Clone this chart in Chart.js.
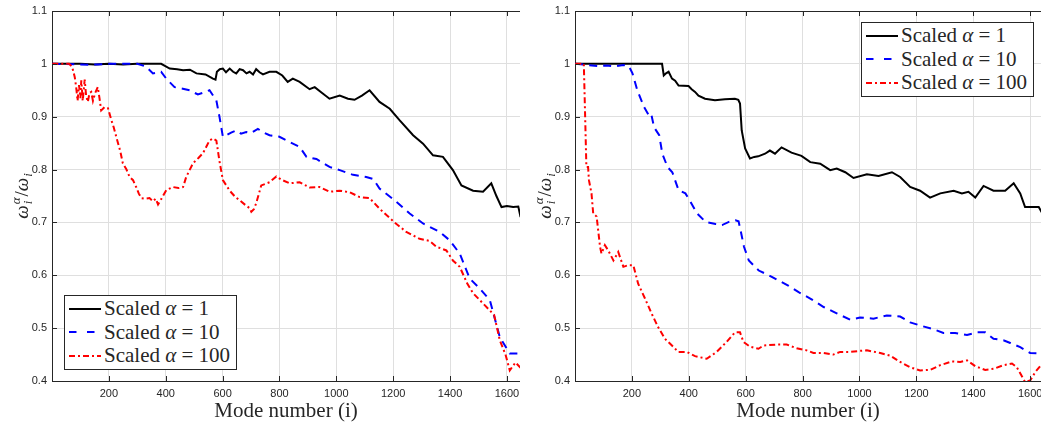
<!DOCTYPE html>
<html>
<head>
<meta charset="utf-8">
<script src="https://cdn.jsdelivr.net/npm/chart.js@4.4.0/dist/chart.umd.min.js"></script>
<style>
body { margin: 0; background: #fff; }
#wrap { position: relative; width: 1041px; height: 425px; overflow: hidden; }
canvas { position: absolute; top: 0; }
#cl { left: 0; }
#cr { left: 520px; }
.legend { position: absolute; z-index: 2; background: #fff; border: 1px solid #262626; box-sizing: border-box;
  width: 173px; height: 75px; font-family: 'Liberation Serif', 'DejaVu Serif', 'Times New Roman', serif; font-size: 21px; color: #262626; }
.legend .row { position: absolute; left: 0; width: 100%; height: 23px; line-height: 23px; white-space: nowrap; }
.legend svg { position: absolute; left: 3px; top: 9.5px; }
.legend span { position: absolute; left: 39px; top: 0; }
#probe { position: absolute; left: 300px; top: 20px; font-size: 21px; z-index: 3; color: #888; }
</style>
</head>
<body>
<div id="wrap">
  <canvas id="cl" width="520" height="425"></canvas>
  <canvas id="cr" width="521" height="425"></canvas>
  <div class="legend" id="legL" style="left:64px; top:295px;"></div>
  <div class="legend" id="legR" style="left:861px; top:22px;"></div>
</div>
<script>
// tick labels / titles
const xTicks = [200, 400, 600, 800, 1000, 1200, 1400, 1600];
const xTitle = 'Mode number (i)';
const alphaLabels = ['1', '10', '100'];

// left panel
const modesL1 = [1, 100, 150, 200, 250, 300, 384, 414, 440, 461, 485, 508, 540, 566, 575, 580, 590, 601, 612, 625, 637, 648, 660, 672, 684, 695, 707, 718, 730, 742, 765, 789, 810, 829, 847, 871, 906, 924, 950, 976, 1012, 1041, 1064, 1090, 1117, 1152, 1188, 1223, 1270, 1305, 1340, 1375, 1410, 1440, 1481, 1516, 1545, 1563, 1581, 1600, 1622, 1640, 1648];
const ratioL1 = [1, 1, 0.999, 1, 0.999, 1, 1, 0.991, 0.99, 0.988, 0.989, 0.982, 0.98, 0.972, 0.97, 0.985, 0.99, 0.991, 0.984, 0.991, 0.985, 0.982, 0.99, 0.988, 0.982, 0.985, 0.98, 0.99, 0.984, 0.98, 0.985, 0.985, 0.978, 0.966, 0.972, 0.966, 0.952, 0.956, 0.945, 0.934, 0.94, 0.934, 0.932, 0.94, 0.95, 0.928, 0.915, 0.893, 0.865, 0.849, 0.827, 0.824, 0.799, 0.77, 0.76, 0.758, 0.774, 0.75, 0.729, 0.731, 0.729, 0.73, 0.71];

const modesL10 = [1, 100, 130, 160, 200, 300, 330, 355, 384, 402, 431, 460, 484, 513, 535, 554, 578, 589, 601, 613, 630, 648, 665, 683, 700, 724, 745, 765, 800, 836, 871, 895, 930, 976, 1012, 1059, 1105, 1130, 1152, 1205, 1258, 1305, 1364, 1399, 1434, 1469, 1504, 1540, 1575, 1610, 1648];
const ratioL10 = [1, 0.999, 0.998, 0.999, 1, 1, 0.995, 0.982, 0.985, 0.972, 0.956, 0.953, 0.95, 0.942, 0.946, 0.95, 0.931, 0.9, 0.862, 0.865, 0.87, 0.874, 0.868, 0.871, 0.869, 0.877, 0.87, 0.865, 0.862, 0.852, 0.843, 0.824, 0.82, 0.805, 0.799, 0.79, 0.786, 0.782, 0.764, 0.742, 0.717, 0.698, 0.682, 0.666, 0.641, 0.594, 0.575, 0.553, 0.483, 0.452, 0.452];

const modesL100 = [1, 60, 70, 74, 80, 85, 90, 95, 100, 103, 108, 115, 120, 126, 132, 138, 144, 152, 161, 167, 173, 185, 197, 208, 217, 226, 240, 249, 262, 273, 285, 296, 305, 314, 330, 343, 355, 365, 373, 385, 402, 425, 445, 461, 472, 496, 515, 531, 554, 566, 578, 589, 601, 625, 645, 660, 680, 695, 701, 710, 718, 736, 765, 789, 810, 836, 871, 906, 941, 976, 1012, 1047, 1082, 1117, 1152, 1205, 1246, 1293, 1328, 1352, 1387, 1410, 1434, 1460, 1481, 1510, 1539, 1555, 1575, 1595, 1610, 1630, 1648];
const ratioL100 = [1, 1, 0.995, 0.988, 0.975, 0.956, 0.93, 0.96, 0.935, 0.969, 0.93, 0.97, 0.94, 0.928, 0.945, 0.947, 0.93, 0.945, 0.956, 0.935, 0.912, 0.918, 0.916, 0.895, 0.88, 0.862, 0.835, 0.812, 0.8, 0.786, 0.78, 0.767, 0.755, 0.746, 0.745, 0.746, 0.74, 0.745, 0.734, 0.745, 0.761, 0.767, 0.765, 0.767, 0.786, 0.812, 0.822, 0.831, 0.855, 0.859, 0.855, 0.816, 0.78, 0.76, 0.748, 0.742, 0.733, 0.727, 0.72, 0.725, 0.736, 0.77, 0.776, 0.787, 0.78, 0.774, 0.776, 0.766, 0.767, 0.758, 0.76, 0.757, 0.748, 0.746, 0.726, 0.7, 0.682, 0.669, 0.665, 0.654, 0.647, 0.628, 0.616, 0.585, 0.566, 0.55, 0.534, 0.525, 0.477, 0.45, 0.42, 0.435, 0.425];

// right panel
const modesR1 = [1, 100, 200, 306, 312, 320, 329, 341, 352, 364, 399, 410, 422, 434, 457, 492, 527, 562, 574, 580, 586, 598, 615, 630, 644, 668, 685, 703, 726, 761, 796, 827, 862, 897, 920, 950, 979, 1026, 1067, 1114, 1143, 1178, 1213, 1248, 1284, 1331, 1360, 1383, 1407, 1436, 1471, 1512, 1542, 1565, 1582, 1612, 1630, 1648];
const ratioR1 = [1, 1, 1, 1, 0.978, 0.982, 0.985, 0.972, 0.968, 0.959, 0.958, 0.952, 0.947, 0.94, 0.934, 0.931, 0.933, 0.934, 0.932, 0.925, 0.874, 0.84, 0.821, 0.824, 0.825, 0.83, 0.836, 0.83, 0.842, 0.832, 0.826, 0.814, 0.811, 0.799, 0.802, 0.795, 0.784, 0.791, 0.788, 0.795, 0.786, 0.767, 0.76, 0.747, 0.755, 0.76, 0.755, 0.758, 0.747, 0.769, 0.76, 0.76, 0.774, 0.755, 0.729, 0.729, 0.729, 0.712];

const modesR10 = [1, 40, 80, 110, 140, 170, 190, 202, 219, 243, 260, 268, 278, 296, 307, 325, 342, 364, 388, 406, 429, 459, 494, 517, 541, 564, 575, 582, 594, 611, 646, 681, 716, 751, 786, 827, 874, 920, 967, 1002, 1049, 1096, 1143, 1178, 1213, 1254, 1295, 1336, 1378, 1413, 1442, 1471, 1506, 1530, 1565, 1600, 1648];
const ratioR10 = [1, 0.998, 0.996, 0.997, 0.995, 0.998, 0.995, 0.982, 0.95, 0.918, 0.902, 0.905, 0.88, 0.865, 0.83, 0.805, 0.795, 0.761, 0.755, 0.739, 0.717, 0.701, 0.697, 0.695, 0.701, 0.704, 0.702, 0.685, 0.654, 0.628, 0.609, 0.6, 0.59, 0.58, 0.568, 0.556, 0.54, 0.528, 0.516, 0.52, 0.518, 0.524, 0.522, 0.511, 0.505, 0.499, 0.491, 0.491, 0.487, 0.492, 0.492, 0.48, 0.477, 0.472, 0.464, 0.453, 0.452];

const modesR100 = [1, 31, 36, 40, 46, 49, 58, 64, 76, 88, 93, 105, 117, 135, 152, 170, 187, 205, 222, 246, 269, 292, 316, 339, 363, 393, 422, 463, 498, 533, 562, 580, 592, 615, 645, 662, 709, 744, 779, 814, 838, 873, 908, 932, 967, 1002, 1026, 1073, 1108, 1143, 1178, 1213, 1248, 1284, 1325, 1354, 1378, 1407, 1442, 1471, 1506, 1536, 1553, 1582, 1600, 1618, 1635, 1648];
const ratioR100 = [1, 1, 0.893, 0.805, 0.805, 0.78, 0.755, 0.717, 0.711, 0.654, 0.641, 0.657, 0.647, 0.628, 0.644, 0.616, 0.619, 0.619, 0.584, 0.556, 0.528, 0.502, 0.48, 0.468, 0.455, 0.455, 0.447, 0.442, 0.455, 0.474, 0.492, 0.492, 0.474, 0.465, 0.461, 0.467, 0.469, 0.469, 0.462, 0.458, 0.453, 0.453, 0.45, 0.455, 0.455, 0.457, 0.458, 0.453, 0.448, 0.436, 0.426, 0.42, 0.421, 0.43, 0.437, 0.436, 0.439, 0.428, 0.421, 0.423, 0.43, 0.433, 0.426, 0.398, 0.401, 0.417, 0.428, 0.428];

const colors = ['#000000', '#0000ff', '#ff0000'];
const dashes = [[], [8, 6], [6, 3, 2, 3]];

const axisColor = '#262626';
const serif = '"Liberation Serif", "DejaVu Serif", "Times New Roman", serif';

function drawYTitle(ctx, cx, cy) {
    const big = 'italic 19px ' + serif;
    const small = 'italic 13px ' + serif;
    const plain = '19px ' + serif;
    ctx.save();
    ctx.translate(cx, cy);
    ctx.rotate(-Math.PI / 2);
    ctx.textAlign = 'left';
    ctx.textBaseline = 'alphabetic';
    ctx.font = big; const wW = ctx.measureText('ω').width;
    ctx.font = small; const wA = ctx.measureText('α').width; const wI = ctx.measureText('i').width;
    ctx.font = plain; const wS = ctx.measureText('/').width;
    const total = wW + 1 + Math.max(wA, wI) + 1 + wS + wW + 1 + wI;
    let x = -total / 2;
    ctx.font = big; ctx.fillText('ω', x, 0); x += wW + 1;
    ctx.font = small; ctx.fillText('α', x, -8); ctx.fillText('i', x, 4); x += Math.max(wA, wI) + 1;
    ctx.font = plain; ctx.fillText('/', x, 0); x += wS;
    ctx.font = big; ctx.fillText('ω', x, 0); x += wW + 1;
    ctx.font = small; ctx.fillText('i', x, 4);
    ctx.restore();
}

const frame = {
    id: 'frame',
    afterDraw(chart) {
        const {ctx, chartArea: a, scales: {x, y}} = chart;
        ctx.save();
        ctx.strokeStyle = axisColor;
        ctx.lineWidth = 1;
        ctx.beginPath();
        ctx.moveTo(a.left, a.top + 0.5);
        ctx.lineTo(a.right, a.top + 0.5);
        x.ticks.forEach(t => {
            const px = Math.round(x.getPixelForValue(t.value)) + 0.5;
            ctx.moveTo(px, a.bottom); ctx.lineTo(px, a.bottom - 5);
            ctx.moveTo(px, a.top); ctx.lineTo(px, a.top + 5);
        });
        y.ticks.forEach(t => {
            const py = Math.round(y.getPixelForValue(t.value)) + 0.5;
            ctx.moveTo(a.left, py); ctx.lineTo(a.left + 5, py);
        });
        ctx.stroke();
        ctx.fillStyle = axisColor;
        ctx.font = '21px ' + serif;
        ctx.textAlign = 'center';
        ctx.textBaseline = 'alphabetic';
        ctx.fillText(xTitle, (a.left + a.right) / 2, 417);
        drawYTitle(ctx, a.left - 24, (a.top + a.bottom) / 2);
        ctx.restore();
    }
};

function makeChart(id, yWidth, xMax, series) {
    const ctx = document.getElementById(id).getContext('2d');
    return new Chart(ctx, {
        type: 'line',
        data: {
            datasets: series.map((s, i) => ({
                label: 'Scaled α = ' + alphaLabels[i],
                data: s[0].map((m, j) => ({x: m, y: s[1][j]})),
                borderColor: colors[i],
                borderWidth: 2,
                borderDash: dashes[i],
                pointRadius: 0,
                tension: 0,
                fill: false,
                order: 3 - i
            }))
        },
        options: {
            responsive: false,
            animation: false,
            layout: {padding: {top: 11, left: 0, right: 0, bottom: 0}},
            plugins: {legend: {display: false}, tooltip: {enabled: false}},
            scales: {
                x: {
                    type: 'linear',
                    min: 0,
                    max: xMax,
                    afterFit(s) { s.height = 44; s.paddingLeft = 0; s.paddingRight = 0; },
                    afterBuildTicks(s) { s.ticks = xTicks.map(v => ({value: v})); },
                    ticks: {
                        padding: 6,
                        color: axisColor,
                        font: {family: 'Liberation Sans', size: 11},
                        callback: v => String(v)
                    },
                    grid: {color: '#dfdfdf', drawTicks: false},
                    border: {color: axisColor, width: 1}
                },
                y: {
                    min: 0.4,
                    max: 1.1,
                    afterFit(s) { s.width = yWidth; s.paddingTop = 0; s.paddingBottom = 0; },
                    ticks: {
                        stepSize: 0.1,
                        padding: 5,
                        color: axisColor,
                        font: {family: 'Liberation Sans', size: 11},
                        callback: v => String(parseFloat(v.toFixed(1)))
                    },
                    grid: {color: '#dfdfdf', drawTicks: false},
                    border: {color: axisColor, width: 1}
                }
            }
        },
        plugins: [frame]
    });
}

makeChart('cl', 52, 1646, [[modesL1, ratioL1], [modesL10, ratioL10], [modesL100, ratioL100]]);
makeChart('cr', 55, 1638, [[modesR1, ratioR1], [modesR10, ratioR10], [modesR100, ratioR100]]);

function buildLegend(id) {
    const box = document.getElementById(id);
    const svgDash = ['', '7.5 10.5', '6 3 2 3'];
    alphaLabels.forEach((lab, i) => {
        const row = document.createElement('div');
        row.className = 'row';
        row.style.top = (1 + i * 23.5) + 'px';
        row.innerHTML =
            '<svg width="34" height="4"><line x1="1" y1="2" x2="33" y2="2" stroke="' + colors[i] +
            '" stroke-width="2"' + (svgDash[i] ? ' stroke-dasharray="' + svgDash[i] + '"' : '') + '/></svg>' +
            '<span>Scaled <i>α</i> = ' + lab + '</span>';
        box.appendChild(row);
    });
}
buildLegend('legL');
buildLegend('legR');
</script>
</body>
</html>
